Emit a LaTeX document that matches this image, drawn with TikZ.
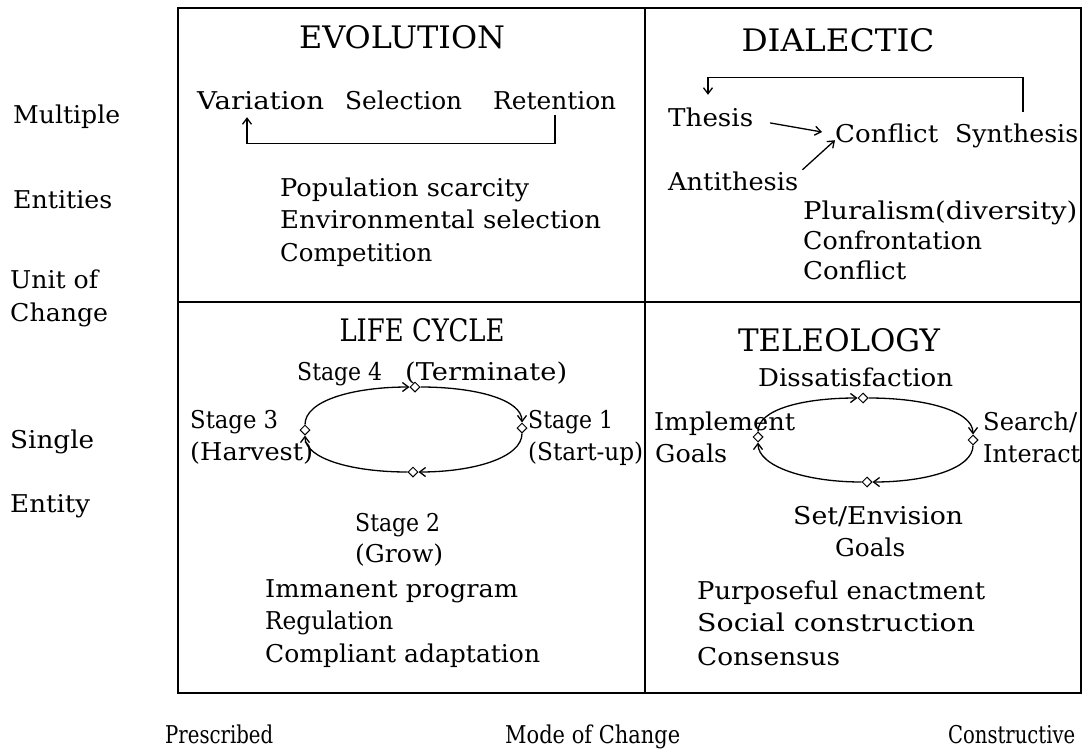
\documentclass[tikz,border=0pt]{standalone}
\usepackage{fontspec}
\setmainfont{DejaVu Serif}
\usetikzlibrary{shapes.geometric,arrows.meta}

% set a label to a given width, keeping its height
\newcommand\fitw[2]{\resizebox{#1pt}{\height}{#2}}

\begin{document}
\begin{tikzpicture}[x=1pt,y=-1pt,
  txt/.style={inner sep=0pt,anchor=base west,text height=17pt,text depth=5pt,
              font=\fontsize{24.5}{28}\selectfont},
  head/.style={inner sep=0pt,anchor=base,font=\fontsize{31}{34}\selectfont},
  grid/.style={line width=2.6pt},
  dmark/.style={diamond,draw,line width=1pt,minimum size=10pt,inner sep=0pt,fill=white},
  flow/.style={line width=1.3pt,-{Straight Barb[length=6pt,width=9pt]}},
  loopline/.style={line width=1.3pt,-{Straight Barb[length=6pt,width=9pt]}},
  upleft/.style={out=90,in=180,out looseness=0.55,in looseness=1.3},
  upright/.style={out=0,in=90,out looseness=1.3,in looseness=0.55},
  downright/.style={out=-90,in=0,out looseness=0.55,in looseness=1.3},
  downleft/.style={out=180,in=-90,out looseness=1.3,in looseness=0.55},
]
\useasboundingbox (0,0) rectangle (1085,750);

% quadrant frame
\draw[grid] (178,8) rectangle (1081,693);
\draw[grid] (645,8) -- (645,693);
\draw[grid] (178,302) -- (1081,302);

% axis labels
\node[txt] at (13,123) {\fitw{107}{Multiple}};
\node[txt] at (13,208) {\fitw{99}{Entities}};
\node[txt] at (10,288) {\fitw{88}{Unit of}};
\node[txt] at (10,321) {\fitw{98}{Change}};
\node[txt] at (10,448) {\fitw{84}{Single}};
\node[txt] at (10,512) {\fitw{80}{Entity}};
\node[txt] at (165,743) {\fitw{108}{Prescribed}};
\node[txt] at (505,743) {\fitw{175}{Mode of Change}};
\node[txt] at (948,743) {\fitw{127}{Constructive}};

% EVOLUTION
\node[head] (evo) at (402,48) {\fitw{206}{EVOLUTION}};
\node[txt] (var) at (197,109) {\fitw{127}{Variation}};
\node[txt] (sel) at (345,109) {\fitw{117}{Selection}};
\node[txt] (ret) at (493,109) {\fitw{123}{Retention}};
\draw[flow,shorten <=1pt,shorten >=3pt] ([xshift=62pt]ret.south west) -- ++(0,29)
  -| ([xshift=50pt]var.south west);
\node[txt] at (280,196) {\fitw{249}{Population scarcity}};
\node[txt] at (280,228) {\fitw{321}{Environmental selection}};
\node[txt] at (280,261) {\fitw{152}{Competition}};

% DIALECTIC
\node[head] (dia) at (838,51) {\fitw{193}{DIALECTIC}};
\node[txt] (the) at (668,126) {\fitw{85}{Thesis}};
\node[txt] (con) at (835,142) {\fitw{103}{Conflict}};
\node[txt] (syn) at (955,142) {\fitw{123}{Synthesis}};
\node[txt] (ant) at (668,190) {\fitw{130}{Antithesis}};
\draw[flow] ([xshift=68pt,yshift=13pt]syn.north west) -- ++(0,-34)
  -| ([xshift=40pt,yshift=14pt]the.north west);
\draw[flow,shorten <=17pt] (the.east) -- ([xshift=-13pt,yshift=4pt]con.west);
\draw[flow] ([xshift=4pt,yshift=3pt]ant.north east) -- ([yshift=7pt]con.south west);
\node[txt] at (803,219) {\fitw{274}{Pluralism(diversity)}};
\node[txt] at (803,249) {\fitw{179}{Confrontation}};
\node[txt] at (803,279) {\fitw{103}{Conflict}};

% LIFE CYCLE
\node[head] (lc) at (422,341) {\fitw{165}{LIFE CYCLE}};
\node[dmark] (lt) at (415,387) {};
\node[dmark] (lr) at (522,428) {};
\node[dmark] (lb) at (413,472) {};
\node[dmark] (ll) at (305,430) {};
\draw[loopline] (ll) to[upleft] (lt);
\draw[loopline] (lt) to[upright] (lr);
\draw[loopline] (lr) to[downright] (lb);
\draw[loopline] (lb) to[downleft] (ll);
\node[txt] at (297,380) {\fitw{85}{Stage 4}};
\node[txt] at (405,380) {\fitw{162}{(Terminate)}};
\node[txt] at (190,428) {\fitw{88}{Stage 3}};
\node[txt] at (190,460) {\fitw{123}{(Harvest)}};
\node[txt] at (528,428) {\fitw{85}{Stage 1}};
\node[txt] at (528,460) {\fitw{115}{(Start-up)}};
\node[txt] at (355,531) {\fitw{85}{Stage 2}};
\node[txt] at (355,562) {\fitw{88}{(Grow)}};
\node[txt] at (265,597) {\fitw{253}{Immanent program}};
\node[txt] at (265,629) {\fitw{128}{Regulation}};
\node[txt] at (265,662) {\fitw{275}{Compliant adaptation}};

% TELEOLOGY
\node[head] (tel) at (839,351) {\fitw{202}{TELEOLOGY}};
\node[dmark] (tt) at (863,398) {};
\node[dmark] (tr) at (973,440) {};
\node[dmark] (tb) at (867,482) {};
\node[dmark] (tl) at (758,437) {};
\draw[loopline] (tl) to[upleft] (tt);
\draw[loopline] (tt) to[upright] (tr);
\draw[loopline] (tr) to[downright] (tb);
\draw[loopline] (tb) to[downleft] (tl);
\node[txt] at (758,386) {\fitw{195}{Dissatisfaction}};
\node[txt] at (654,430) {\fitw{141}{Implement}};
\node[txt] at (655,462) {\fitw{72}{Goals}};
\node[txt] at (983,430) {\fitw{94}{Search/}};
\node[txt] at (983,462) {\fitw{97}{Interact}};
\node[txt] at (793,524) {\fitw{170}{Set/Envision}};
\node[txt] at (835,556) {\fitw{70}{Goals}};
\node[txt] at (697,599) {\fitw{288}{Purposeful enactment}};
\node[txt] at (697,631) {\fitw{278}{Social construction}};
\node[txt] at (697,665) {\fitw{143}{Consensus}};
\end{tikzpicture}
\end{document}
